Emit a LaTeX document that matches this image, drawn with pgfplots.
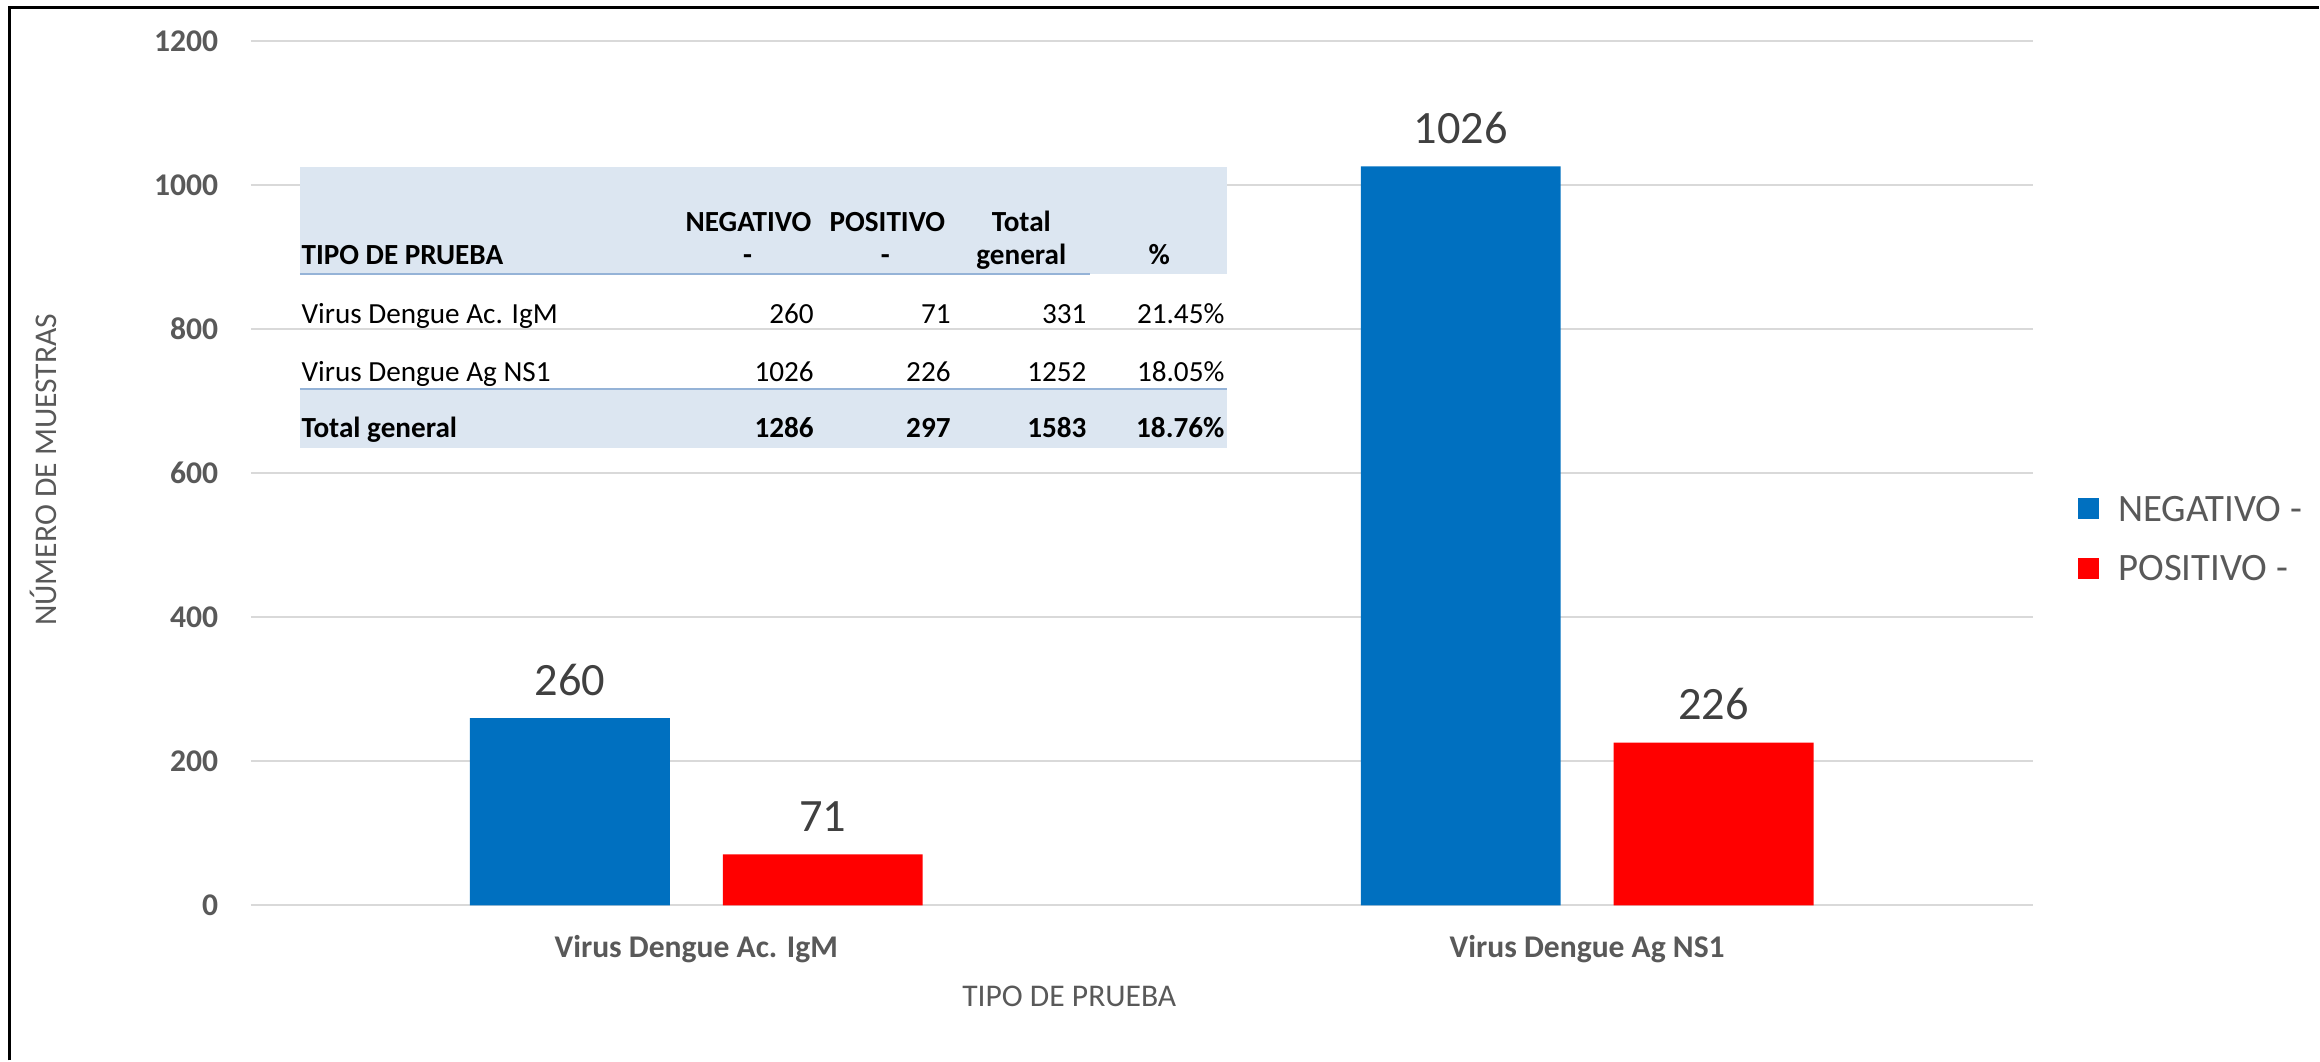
\documentclass[border=0pt]{standalone}
\usepackage{fontspec}
\setmainfont{Carlito}
\usepackage{pgfplots}
\pgfplotsset{compat=1.18}
\definecolor{negblue}{HTML}{0070C0}
\definecolor{posred}{HTML}{FF0000}
\definecolor{tickgray}{HTML}{595959}
\definecolor{labelgray}{HTML}{404040}
\definecolor{gridgray}{HTML}{D9D9D9}
\definecolor{bandblue}{HTML}{DCE6F1}
\definecolor{lineblue}{HTML}{95B3D7}
\begin{document}
\begin{tikzpicture}
\begin{scope}[x=0.25pt,y=-0.25pt]
\path[use as bounding box] (0,0) rectangle (2320,1061);
\end{scope}
\begin{axis}[
 at={(62.75pt,-226.5pt)}, anchor=south west,
 scale only axis, width=445.75pt, height=216.25pt,
 xmin=-0.5, xmax=1.5, ymin=0, ymax=1200, enlargelimits=false,
 ytick={0,200,...,1200}, xtick={0,1},
 xticklabels={Virus Dengue Ac. IgM, Virus Dengue Ag NS1},
 axis line style={draw=none},
 major tick length=0pt,
 ymajorgrids, grid style={draw=gridgray, line width=0.5pt},
 ybar, bar width=50pt,
 /pgf/number format/1000 sep={},
 /pgf/number format/assume math mode=true,
 ticklabel style={font=\fontsize{7.9}{9}\selectfont\bfseries, text=tickgray},
 yticklabel style={anchor=east, inner sep=0pt, xshift=-8pt},
 xticklabel style={anchor=base, inner sep=0pt, yshift=-13pt},
 xlabel={TIPO DE PRUEBA}, ylabel={NÚMERO DE MUESTRAS},
 label style={font=\fontsize{7.9}{9}\selectfont, text=tickgray, inner sep=0pt},
 xlabel style={at={(axis description cs:0.4593,-0.1168)}, anchor=base},
 ylabel style={at={(axis description cs:-0.1088,0.504)}, anchor=base},
 nodes near coords,
 every node near coord/.append style={font=\fontsize{11.6}{13}\selectfont, text=labelgray, inner sep=0pt, yshift=5.4pt, anchor=south},
 legend style={at={(axis description cs:1.02524,0.4745)}, anchor=north west, draw=none, fill=none, inner sep=0pt, row sep=8.75pt, column sep=4.75pt, font=\fontsize{9.7}{11}\selectfont, text=tickgray, nodes={inner sep=0pt, text height=6.25pt, text depth=0pt}},
 legend cell align=left,
]
\addplot[fill=negblue, draw=none, bar shift=-31.625pt, legend image code/.code={\fill[negblue] (0pt,-2.625pt) rectangle (5.25pt,2.625pt);}] coordinates {(0,260) (1,1026)};
\addplot[fill=posred, draw=none, bar shift=31.625pt, legend image code/.code={\fill[posred] (0pt,-2.625pt) rectangle (5.25pt,2.625pt);}] coordinates {(0,71) (1,226)};
\legend{NEGATIVO -, POSITIVO -}
\end{axis}
\begin{scope}[x=0.25pt,y=-0.25pt, font=\fontsize{7.3}{8.5}\selectfont, every node/.style={inner sep=0pt}]
\draw[black, line width=0.75pt] (10,1061) -- (10,8) -- (2320,8);
\fill[bandblue] (300,167) rectangle (1228,274);
\draw[lineblue, line width=0.4pt] (300,274) -- (1091,274);
\fill[bandblue] (300,389) rectangle (1228,448);
\draw[lineblue, line width=0.4pt] (300,389) -- (1228,389);
% header
\node[anchor=base west, font=\fontsize{7.3}{8.5}\selectfont\bfseries] at (301,265) {TIPO DE PRUEBA};
\node[anchor=base, font=\fontsize{7.3}{8.5}\selectfont\bfseries] at (749,232) {NEGATIVO};
\node[anchor=base, font=\fontsize{7.3}{8.5}\selectfont\bfseries] at (748,265) {-};
\node[anchor=base, font=\fontsize{7.3}{8.5}\selectfont\bfseries] at (888,232) {POSITIVO};
\node[anchor=base, font=\fontsize{7.3}{8.5}\selectfont\bfseries] at (886,265) {-};
\node[anchor=base, font=\fontsize{7.3}{8.5}\selectfont\bfseries] at (1022,232) {Total};
\node[anchor=base, font=\fontsize{7.3}{8.5}\selectfont\bfseries] at (1022,265) {general};
\node[anchor=base, font=\fontsize{7.3}{8.5}\selectfont\bfseries] at (1160,265) {\%};
% row 1
\node[anchor=base west] at (301,324) {Virus Dengue Ac. IgM};
\node[anchor=base east] at (815,324) {260};
\node[anchor=base east] at (952,324) {71};
\node[anchor=base east] at (1088,324) {331};
\node[anchor=base east] at (1226,324) {21.45\%};
% row 2
\node[anchor=base west] at (301,382) {Virus Dengue Ag NS1};
\node[anchor=base east] at (815,382) {1026};
\node[anchor=base east] at (952,382) {226};
\node[anchor=base east] at (1088,382) {1252};
\node[anchor=base east] at (1226,382) {18.05\%};
% total
\node[anchor=base west, font=\fontsize{7.3}{8.5}\selectfont\bfseries] at (301,438) {Total general};
\node[anchor=base east, font=\fontsize{7.3}{8.5}\selectfont\bfseries] at (815,438) {1286};
\node[anchor=base east, font=\fontsize{7.3}{8.5}\selectfont\bfseries] at (952,438) {297};
\node[anchor=base east, font=\fontsize{7.3}{8.5}\selectfont\bfseries] at (1088,438) {1583};
\node[anchor=base east, font=\fontsize{7.3}{8.5}\selectfont\bfseries] at (1226,438) {18.76\%};
\end{scope}
\end{tikzpicture}
\end{document}
